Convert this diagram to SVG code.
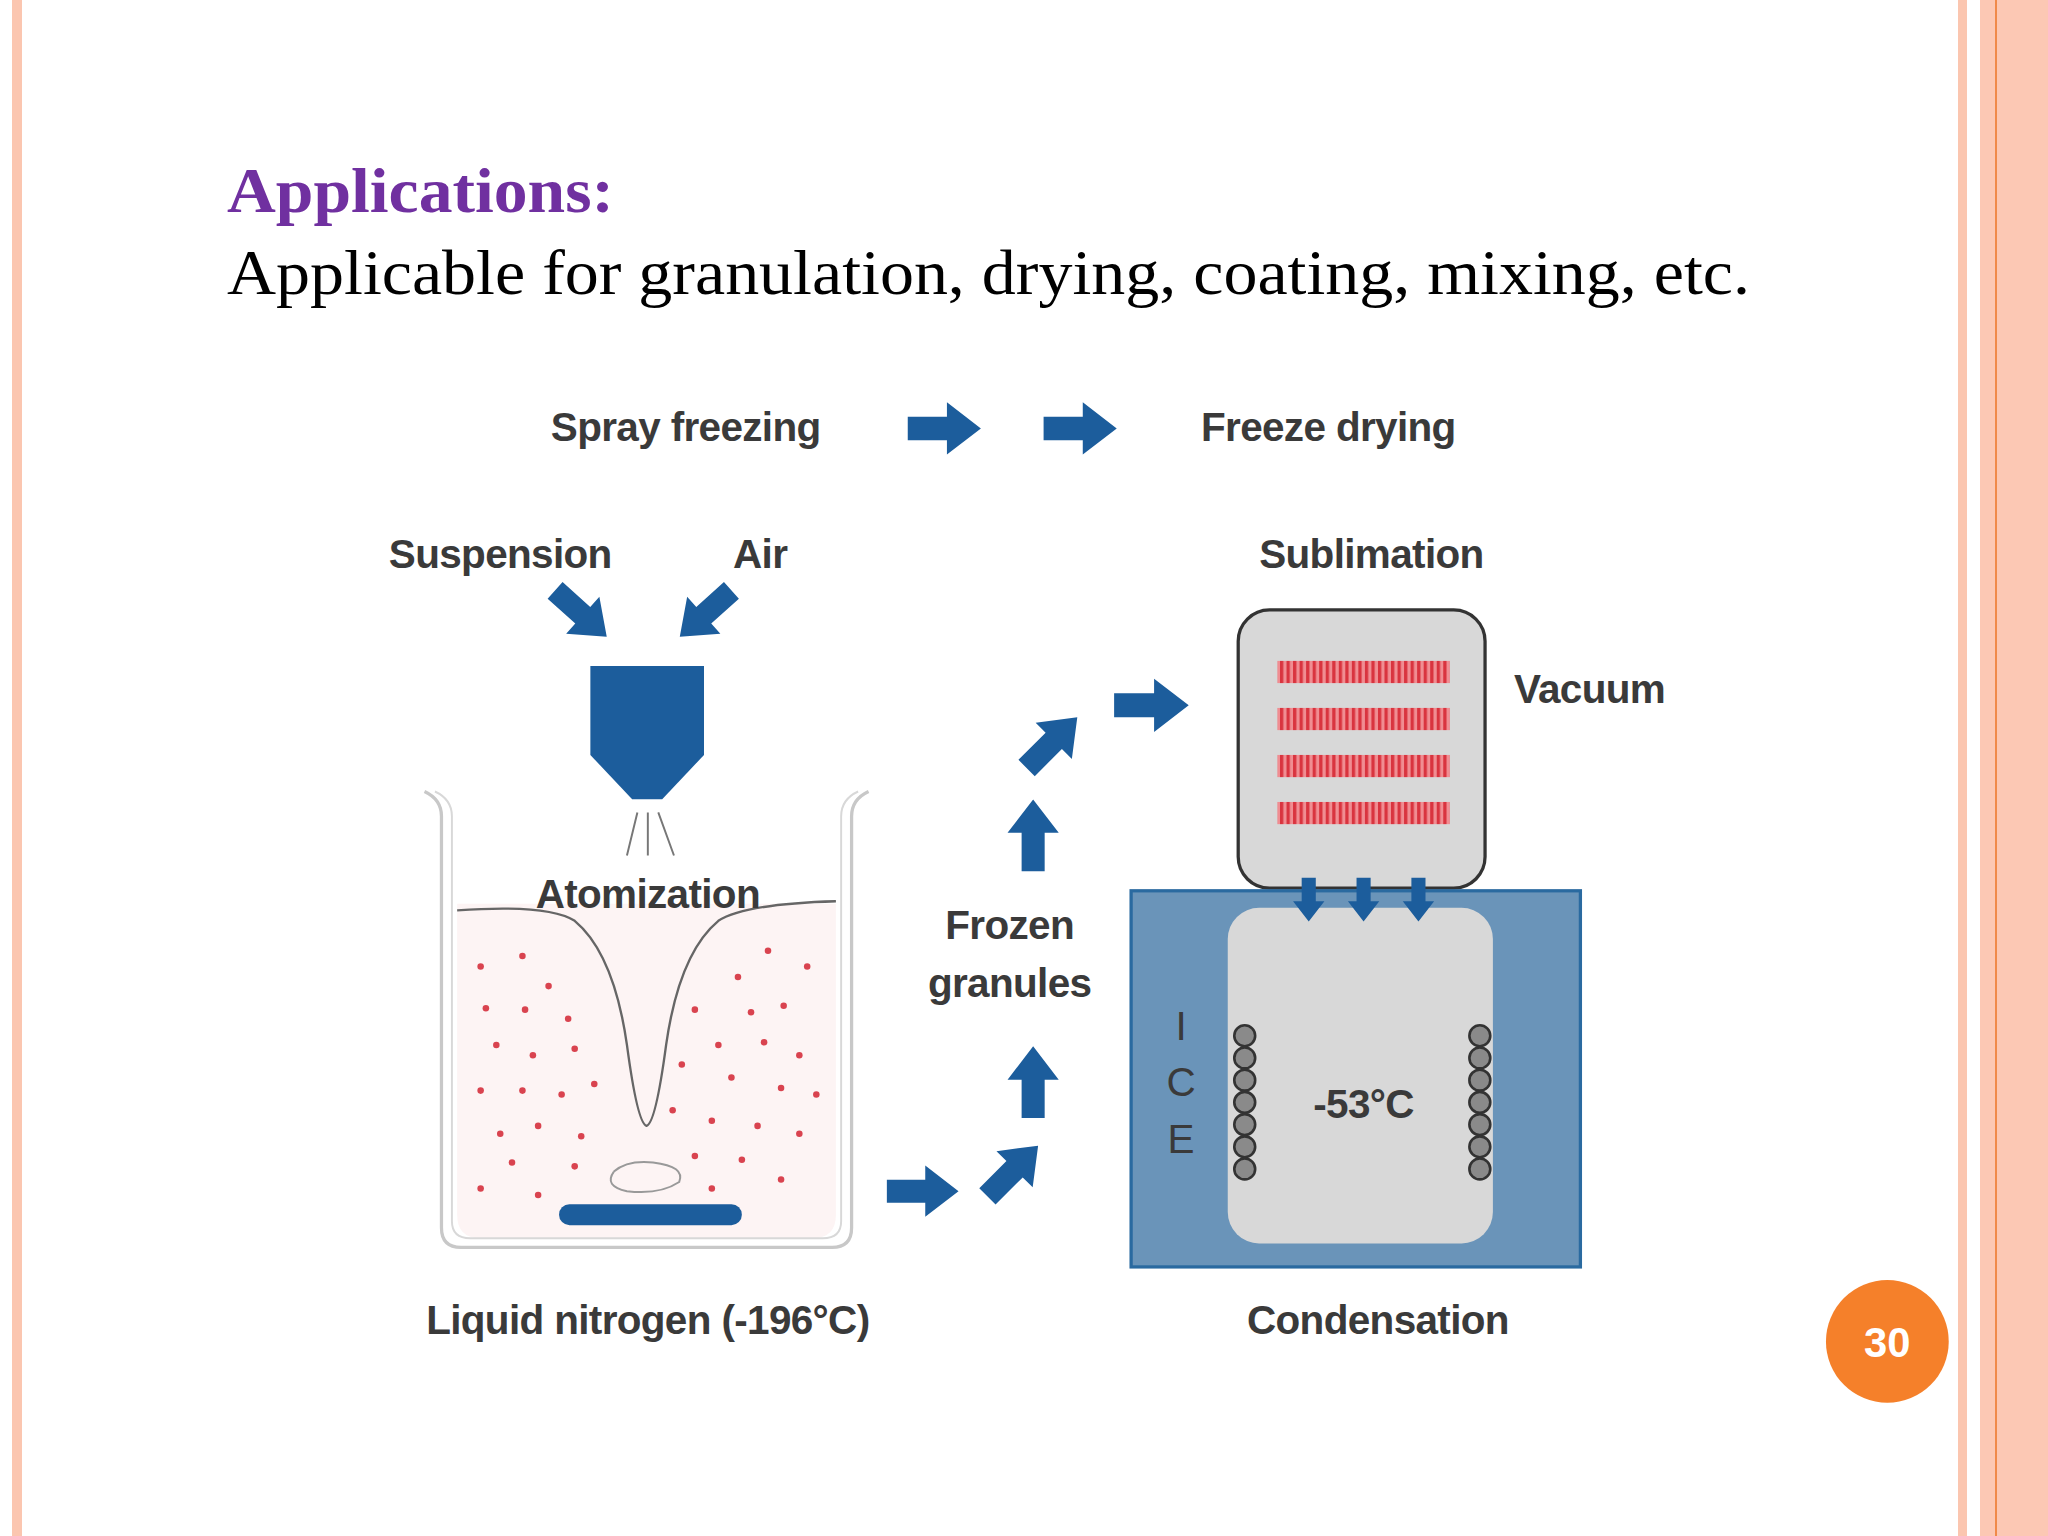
<svg xmlns="http://www.w3.org/2000/svg" xmlns:xlink="http://www.w3.org/1999/xlink" width="2048" height="1536" viewBox="0 0 2048 1536">
<style>
.t{font-family:"Liberation Sans",Arial,sans-serif;fill:#3a3a3a;text-anchor:middle;font-size:31px;font-weight:bold;letter-spacing:-0.5px}
.b{fill:#1c5d9c}
.dot{fill:#d9434f}
</style>
<defs>
<path id="ba" d="M0,-9 H30 V-20 L56,0 L30,20 V9 H0 Z"/>
<pattern id="stripe" width="5" height="20" patternUnits="userSpaceOnUse"><rect width="5" height="20" fill="#f08d92"/><rect width="2.5" height="20" fill="#d9343f"/></pattern>
</defs>
<rect width="2048" height="1536" fill="#fff"/>
<g id="frame">
<rect x="12" y="0" width="10" height="1536" fill="#fbc6b0"/>
<rect x="1958" y="0" width="9" height="1536" fill="#fbc6b0"/>
<rect x="1980" y="0" width="68" height="1536" fill="#fcc8b4"/>
<rect x="1995" y="0" width="2" height="1536" fill="#f08a4a"/>
</g>
<g id="title" font-family="Liberation Serif,Times New Roman,serif">
<text x="227" y="212" font-size="63" font-weight="bold" fill="#7030a0" textLength="387" lengthAdjust="spacingAndGlyphs">Applications:</text>
<text x="227" y="294" font-size="63" fill="#000" textLength="1523" lengthAdjust="spacingAndGlyphs">Applicable for granulation, drying, coating, mixing, etc.</text>
</g>
<g transform="scale(1.30612)">
<g id="beaker">
<path d="M350,692 L640,692 V930 Q640,948 622,948 H368 Q350,948 350,930 Z" fill="#fdf4f4"/>
<path d="M325,606 Q338,612 338,625 V940 Q338,955 353,955 H637 Q652,955 652,940 V625 Q652,612 665,606" fill="none" stroke="#c8c8c8" stroke-width="2.5"/>
<path d="M333,606 Q346,612 346,625 V935 Q346,948 360,948 H630 Q644,948 644,935 V625 Q644,612 657,606" fill="none" stroke="#d8d8d8" stroke-width="1.5"/>
<path d="M350,697 Q420,692 440,705 Q470,730 480,800 Q488,860 495,862 Q502,860 510,800 Q520,730 550,705 Q570,692 640,690" fill="none" stroke="#666" stroke-width="1.8"/>
<path d="M488,622 L480,655 M496,622 V655 M504,622 L516,655" stroke="#777" stroke-width="1.5"/>
<path d="M470,897 Q480,888 500,890 Q525,893 520,905 Q505,915 480,912 Q462,908 470,897" fill="none" stroke="#999" stroke-width="1.5"/>
<rect x="428" y="922" width="140" height="16" rx="8" class="b"/>
<g class="dot">
<circle cx="368" cy="740" r="2.5"/><circle cx="400" cy="732" r="2.5"/><circle cx="420" cy="755" r="2.5"/><circle cx="372" cy="772" r="2.5"/><circle cx="402" cy="773" r="2.5"/><circle cx="435" cy="780" r="2.5"/>
<circle cx="380" cy="800" r="2.5"/><circle cx="408" cy="808" r="2.5"/><circle cx="440" cy="803" r="2.5"/><circle cx="368" cy="835" r="2.5"/><circle cx="400" cy="835" r="2.5"/><circle cx="430" cy="838" r="2.5"/>
<circle cx="455" cy="830" r="2.5"/><circle cx="383" cy="868" r="2.5"/><circle cx="412" cy="862" r="2.5"/><circle cx="445" cy="870" r="2.5"/><circle cx="368" cy="910" r="2.5"/><circle cx="412" cy="915" r="2.5"/>
<circle cx="392" cy="890" r="2.5"/><circle cx="440" cy="893" r="2.5"/>
<circle cx="565" cy="748" r="2.5"/><circle cx="588" cy="728" r="2.5"/><circle cx="618" cy="740" r="2.5"/><circle cx="575" cy="775" r="2.5"/><circle cx="600" cy="770" r="2.5"/><circle cx="532" cy="773" r="2.5"/>
<circle cx="550" cy="800" r="2.5"/><circle cx="585" cy="798" r="2.5"/><circle cx="612" cy="808" r="2.5"/><circle cx="522" cy="815" r="2.5"/><circle cx="560" cy="825" r="2.5"/><circle cx="598" cy="833" r="2.5"/>
<circle cx="625" cy="838" r="2.5"/><circle cx="515" cy="850" r="2.5"/><circle cx="545" cy="858" r="2.5"/><circle cx="580" cy="862" r="2.5"/><circle cx="612" cy="868" r="2.5"/><circle cx="532" cy="885" r="2.5"/>
<circle cx="568" cy="888" r="2.5"/><circle cx="598" cy="903" r="2.5"/><circle cx="545" cy="910" r="2.5"/>
</g>
</g>
<g id="nozzle">
<path d="M452,510 H539 V578 L507,612 H484 L452,578 Z" class="b"/>
</g>
<g id="chamber">
<rect x="948" y="467" width="189" height="213" rx="24" fill="#d8d8d8" stroke="#333" stroke-width="2.5"/>
<rect x="978" y="506" width="132" height="17" fill="url(#stripe)"/>
<rect x="978" y="542" width="132" height="17" fill="url(#stripe)"/>
<rect x="978" y="578" width="132" height="17" fill="url(#stripe)"/>
<rect x="978" y="614" width="132" height="17" fill="url(#stripe)"/>
</g>
<g id="condenser">
<rect x="866" y="682" width="344" height="288" fill="#6a94b9" stroke="#2a6aa0" stroke-width="2.5"/>
<rect x="940" y="695" width="203" height="257" rx="24" fill="#d8d8d8"/>
<g fill="#8a8a8a" stroke="#333" stroke-width="2">
<circle cx="953" cy="793" r="8"/><circle cx="953" cy="810" r="8"/><circle cx="953" cy="827" r="8"/><circle cx="953" cy="844" r="8"/><circle cx="953" cy="861" r="8"/><circle cx="953" cy="878" r="8"/><circle cx="953" cy="895" r="8"/>
<circle cx="1133" cy="793" r="8"/><circle cx="1133" cy="810" r="8"/><circle cx="1133" cy="827" r="8"/><circle cx="1133" cy="844" r="8"/><circle cx="1133" cy="861" r="8"/><circle cx="1133" cy="878" r="8"/><circle cx="1133" cy="895" r="8"/>
</g>
</g>
<g id="connectors" class="b">
<use xlink:href="#ba" transform="translate(695,328)"/>
<use xlink:href="#ba" transform="translate(799,328)"/>
<use xlink:href="#ba" transform="translate(425,452) rotate(42) scale(0.95)"/>
<use xlink:href="#ba" transform="translate(560,452) rotate(138) scale(0.95)"/>
<use xlink:href="#ba" transform="translate(679,912) scale(0.98)"/>
<use xlink:href="#ba" transform="translate(756,916) rotate(-45) scale(0.98)"/>
<use xlink:href="#ba" transform="translate(791,856) rotate(-90) scale(0.98)"/>
<use xlink:href="#ba" transform="translate(791,667) rotate(-90) scale(0.98)"/>
<use xlink:href="#ba" transform="translate(786,588) rotate(-45) scale(0.98)"/>
<use xlink:href="#ba" transform="translate(853,540) scale(1.02)"/>
<use xlink:href="#ba" transform="translate(1002,672) rotate(90) scale(0.6)"/>
<use xlink:href="#ba" transform="translate(1044,672) rotate(90) scale(0.6)"/>
<use xlink:href="#ba" transform="translate(1086,672) rotate(90) scale(0.6)"/>
</g>
<g id="labels" class="t">
<text x="525" y="338">Spray freezing</text>
<text x="1017" y="338">Freeze drying</text>
<text x="383" y="435">Suspension</text>
<text x="582" y="435">Air</text>
<text x="1050" y="435">Sublimation</text>
<text x="1217" y="538">Vacuum</text>
<text x="496" y="695">Atomization</text>
<text x="773" y="719">Frozen</text>
<text x="773" y="763">granules</text>
<text x="1044" y="856">-53°C</text>
<text x="496" y="1021">Liquid nitrogen (-196°C)</text>
<text x="1055" y="1021">Condensation</text>
<text x="904" y="796" style="font-weight:normal">I</text>
<text x="904" y="839" style="font-weight:normal">C</text>
<text x="904" y="883" style="font-weight:normal">E</text>
</g>
<g id="page">
<circle cx="1445" cy="1027" r="47" fill="#f5802a"/>
<text x="1445" y="1039" text-anchor="middle" font-family="Liberation Sans,Arial,sans-serif" font-weight="bold" font-size="32" fill="#fff">30</text>
</g>
</g>
</svg>
